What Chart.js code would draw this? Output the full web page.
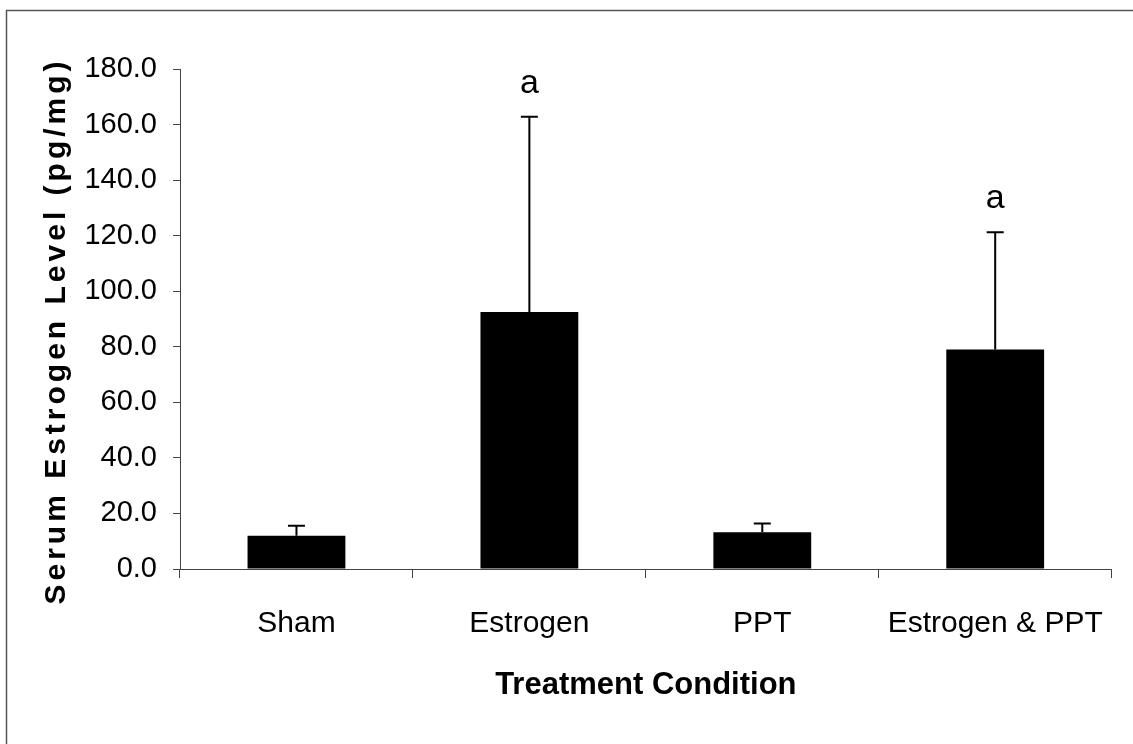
<!DOCTYPE html>
<html>
<head>
<meta charset="utf-8">
<script src="https://cdn.jsdelivr.net/npm/chart.js@4"></script>
<style>
  html, body { margin: 0; padding: 0; background: #fff; }
  #wrap { width: 1133px; height: 744px; }
</style>
</head>
<body>
<div id="wrap"><canvas id="chart1"></canvas></div>
<script>
// data
const categories = ['Sham', 'Estrogen', 'PPT', 'Estrogen & PPT'];
const means = [12.0, 92.5, 13.2, 79.0];
const errors = [3.6, 70.3, 3.2, 42.2]; // upper error bar only
const sigLabels = ['', 'a', '', 'a'];
const yTicks = [0, 20, 40, 60, 80, 100, 120, 140, 160, 180];

const FONT = '"Liberation Sans", Arial, Helvetica, sans-serif';

// frame around the figure (top + left only show in the scan)
const framePlugin = {
  id: 'frame',
  beforeDraw(chart) {
    const c = chart.ctx;
    c.save();
    c.strokeStyle = '#555';
    c.lineWidth = 1.5;
    c.beginPath();
    c.moveTo(6.5, 744);
    c.lineTo(6.5, 10.5);
    c.lineTo(1133, 10.5);
    c.stroke();
    c.restore();
  }
};

// error bars + significance letters
const errorPlugin = {
  id: 'errbars',
  afterDatasetsDraw(chart) {
    const c = chart.ctx;
    const y = chart.scales.y;
    const meta = chart.getDatasetMeta(0);
    c.save();
    c.strokeStyle = '#000';
    c.fillStyle = '#000';
    c.lineWidth = 2;
    meta.data.forEach((bar, i) => {
      const top = y.getPixelForValue(means[i] + errors[i]);
      const base = y.getPixelForValue(means[i]);
      c.beginPath();
      c.moveTo(bar.x, base);
      c.lineTo(bar.x, top);
      c.moveTo(bar.x - 8.5, top);
      c.lineTo(bar.x + 8.5, top);
      c.stroke();
      if (sigLabels[i]) {
        c.font = '34px ' + FONT;
        c.textAlign = 'center';
        c.textBaseline = 'alphabetic';
        c.fillText(sigLabels[i], bar.x, top - 24);
      }
    });
    c.restore();
  }
};

// y title drawn by hand for the wide letter spacing
const yTitlePlugin = {
  id: 'ytitle',
  afterDraw(chart) {
    const c = chart.ctx;
    c.save();
    c.translate(57, 333);
    c.rotate(-Math.PI / 2);
    c.font = 'bold 30px ' + FONT;
    c.letterSpacing = '4px';
    c.textAlign = 'center';
    c.textBaseline = 'middle';
    c.fillStyle = '#000';
    c.fillText('Serum Estrogen Level (pg/mg)', 2, 0);
    c.restore();
  }
};

const ctx1 = document.getElementById('chart1').getContext('2d');
const myChart1 = new Chart(ctx1, {
  type: 'bar',
  data: {
    labels: categories,
    datasets: [{
      data: means,
      backgroundColor: '#000',
      borderWidth: 0,
      categoryPercentage: 1.0,
      barPercentage: 0.42
    }]
  },
  options: {
    responsive: true,
    maintainAspectRatio: false,
    animation: false,
    layout: { padding: { top: 69, right: 18, bottom: 40, left: 0 } },
    plugins: {
      legend: { display: false },
      tooltip: { enabled: false }
    },
    scales: {
      x: {
        grid: {
          offset: true,
          drawOnChartArea: false,
          tickLength: 9,
          color: '#444'
        },
        border: { color: '#444', width: 1 },
        ticks: {
          color: '#000',
          font: { family: FONT, size: 30 },
          padding: 28
        },
        title: {
          display: true,
          text: 'Treatment Condition',
          color: '#000',
          font: { family: FONT, size: 31, weight: 'bold' },
          padding: { top: 10, bottom: 0 }
        },
        afterFit(scale) { scale.height = 135; }
      },
      y: {
        min: 0,
        max: 180,
        afterBuildTicks(scale) {
          scale.ticks = yTicks.map(v => ({ value: v }));
        },
        grid: {
          drawOnChartArea: false,
          tickLength: 7,
          color: '#444'
        },
        border: { color: '#444', width: 1 },
        ticks: {
          color: '#000',
          font: { family: FONT, size: 29 },
          padding: 16,
          callback: v => Number(v).toFixed(1)
        },
        afterFit(scale) { scale.width = 180; }
      }
    }
  },
  plugins: [framePlugin, errorPlugin, yTitlePlugin]
});
</script>
</body>
</html>
